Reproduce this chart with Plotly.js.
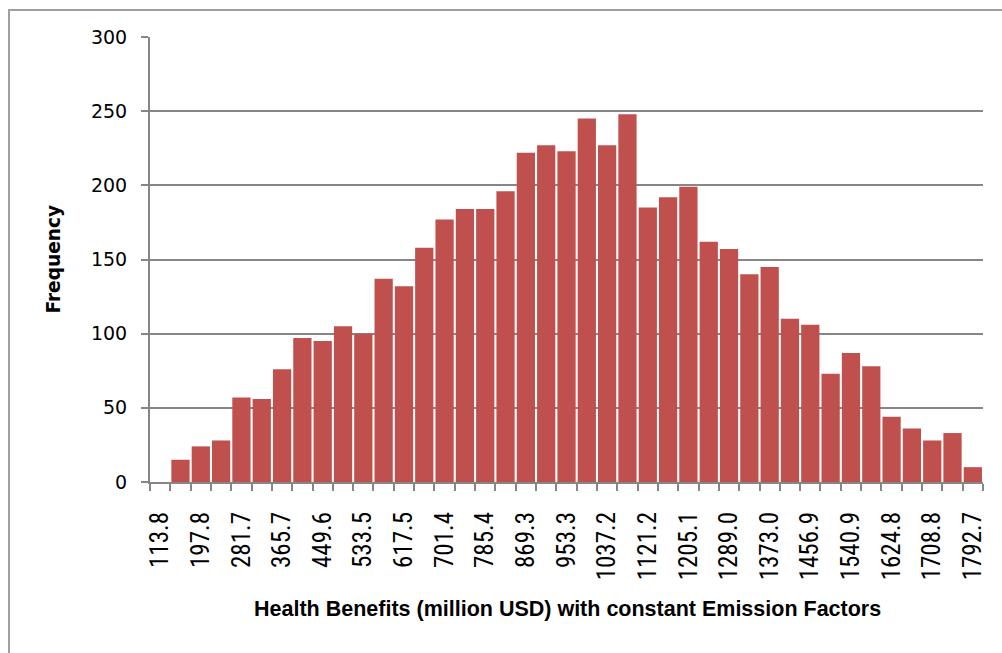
<!DOCTYPE html>
<html>
<head>
<meta charset="utf-8">
<script src="https://cdn.plot.ly/plotly-3.0.1.min.js"></script>
<style>
  html, body { margin: 0; padding: 0; background: #ffffff; }
  #wrap { position: relative; width: 1002px; height: 653px; overflow: hidden; }
  #frame { position: absolute; left: 8px; top: 9px; width: 1100px; height: 800px;
           border-left: 2px solid #a0a0a0; border-top: 2px solid #a0a0a0; box-sizing: border-box; }
  #chart { position: absolute; left: 0; top: 0; width: 1002px; height: 653px; }
</style>
</head>
<body>
<div id="wrap">
  <div id="frame"></div>
  <div id="chart"></div>
</div>
<script>
// Bin centres of the histogram (million USD)
const binCenters = [
  113.8, 155.8, 197.8, 239.7, 281.7, 323.7, 365.7, 407.6, 449.6, 491.6,
  533.5, 575.5, 617.5, 659.4, 701.4, 743.4, 785.4, 827.3, 869.3, 911.3,
  953.3, 995.2, 1037.2, 1079.2, 1121.2, 1163.1, 1205.1, 1247.1, 1289.0, 1331.0,
  1373.0, 1414.9, 1456.9, 1498.9, 1540.9, 1582.9, 1624.8, 1666.8, 1708.8, 1750.7,
  1792.7
];

// Frequency of each bin
const frequency = [
  0, 15, 24, 28, 57, 56, 76, 97, 95, 105,
  100, 137, 132, 158, 177, 184, 184, 196, 222, 227,
  223, 245, 227, 248, 185, 192, 199, 162, 157, 140,
  145, 110, 106, 73, 87, 78, 44, 36, 28, 33,
  10
];

// Labelled ticks on the value axis (every second bin)
const tickValues = [
  113.8, 197.8, 281.7, 365.7, 449.6, 533.5, 617.5, 701.4, 785.4, 869.3, 953.3,
  1037.2, 1121.2, 1205.1, 1289.0, 1373.0, 1456.9, 1540.9, 1624.8, 1708.8, 1792.7
];
const tickLabels = tickValues.map(v => v.toFixed(1));

const xTitle = 'Health Benefits (million USD) with constant Emission Factors';
const yTitle = 'Frequency';

const binWidth = (binCenters[binCenters.length - 1] - binCenters[0]) / (binCenters.length - 1);

const narrowFont = 'Liberation Sans Narrow, Arial Narrow, Roboto Condensed, sans-serif';
const wideFont = 'DejaVu Sans, Verdana, sans-serif';
const titleFont = 'Liberation Sans, Arial, sans-serif';
const gridColor = '#868686';

const trace = {
  type: 'bar',
  x: binCenters,
  y: frequency,
  marker: { color: '#c0504d', line: { width: 0 } },
  hoverinfo: 'x+y'
};

const layout = {
  width: 1002,
  height: 653,
  paper_bgcolor: 'rgba(0,0,0,0)',
  plot_bgcolor: 'rgba(0,0,0,0)',
  margin: { l: 150, r: 19, t: 37, b: 171 },
  bargap: 0.1,
  showlegend: false,
  xaxis: {
    type: 'linear',
    range: [binCenters[0] - binWidth / 2, binCenters[binCenters.length - 1] + binWidth / 2],
    tickmode: 'array',
    tickvals: tickValues,
    ticktext: tickLabels,
    tickangle: -90,
    ticks: '',
    ticklabelstandoff: 18,
    tickfont: { family: narrowFont, size: 25, color: '#000000' },
    showgrid: false,
    zeroline: false,
    showline: true,
    linecolor: gridColor,
    linewidth: 2,
    minor: {
      tickmode: 'linear',
      tick0: binCenters[0] - binWidth / 2,
      dtick: binWidth,
      ticks: 'outside',
      ticklen: 7,
      tickwidth: 2,
      tickcolor: gridColor,
      showgrid: false
    },
    automargin: false
  },
  yaxis: {
    range: [0, 300],
    tickmode: 'linear',
    tick0: 0,
    dtick: 50,
    ticks: 'outside',
    ticklen: 7,
    tickwidth: 2,
    tickcolor: gridColor,
    ticklabelstandoff: 10,
    tickfont: { family: wideFont, size: 19, color: '#000000' },
    showgrid: true,
    gridcolor: gridColor,
    gridwidth: 2,
    zeroline: false,
    showline: true,
    linecolor: gridColor,
    linewidth: 2,
    automargin: false
  },
  annotations: [
    {
      text: '<b>' + xTitle + '</b>',
      xref: 'paper', yref: 'paper',
      x: 0.501, y: -0.2854,
      xanchor: 'center', yanchor: 'middle',
      showarrow: false,
      font: { family: titleFont, size: 21.5, color: '#000000' }
    },
    {
      text: '<b>' + yTitle + '</b>',
      xref: 'paper', yref: 'paper',
      x: -0.1158, y: 0.501,
      xanchor: 'center', yanchor: 'middle',
      textangle: -90,
      showarrow: false,
      font: { family: wideFont, size: 18.6, color: '#000000' }
    }
  ]
};

Plotly.newPlot('chart', [trace], layout, { displayModeBar: false, staticPlot: true });
</script>
</body>
</html>
